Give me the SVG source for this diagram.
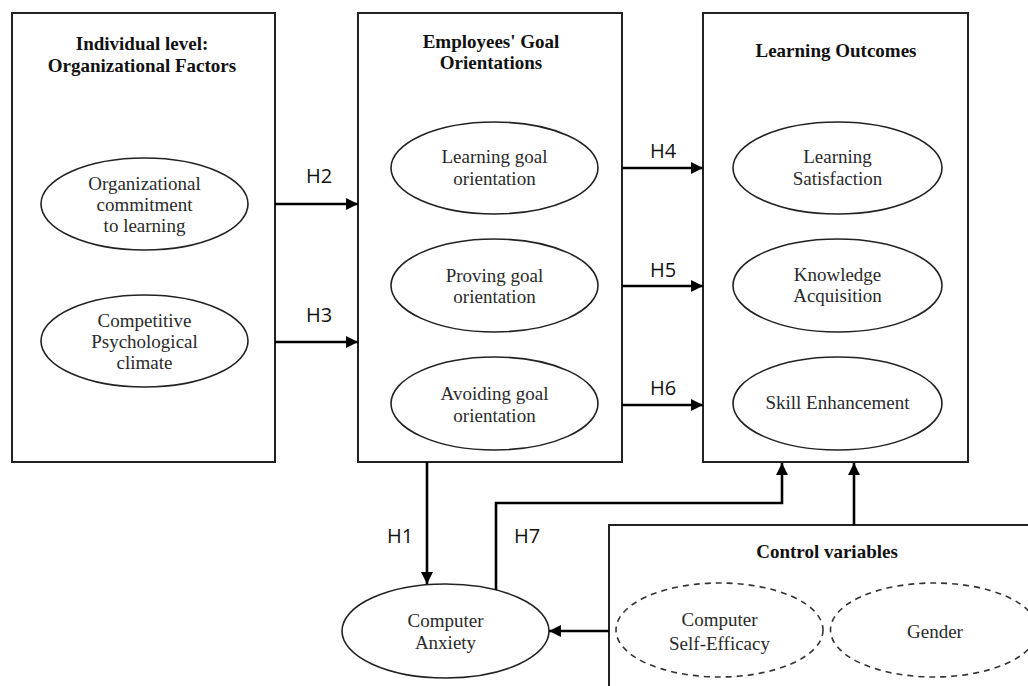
<svg xmlns="http://www.w3.org/2000/svg" width="1028" height="686" viewBox="0 0 1028 686">
<defs>
<style>
.box{fill:#fff;stroke:#222;stroke-width:2}
.ell{fill:#fff;stroke:#222;stroke-width:1.6}
.dash{fill:#fff;stroke:#333;stroke-width:1.6;stroke-dasharray:6 5}
.t{font-family:"Liberation Serif","Times New Roman",serif;font-size:19px;fill:#2a2a2a;text-anchor:middle}
.tb{font-family:"Liberation Serif","Times New Roman",serif;font-size:19px;font-weight:bold;fill:#111;text-anchor:middle}
.h{font-family:"Open Sans","DejaVu Sans",sans-serif;font-size:20px;fill:#111;text-anchor:middle}
.c{fill:none;stroke:#000;stroke-width:2.6}
</style>
<marker id="ah" viewBox="0 0 10 10" refX="10" refY="5" markerWidth="4.6" markerHeight="4.6" markerUnits="strokeWidth" orient="auto">
<path d="M0,0 L10,5 L0,10 z" fill="#000"/>
</marker>
</defs>
<rect width="1028" height="686" fill="#fff"/>

<g id="box-individual">
<rect class="box" x="12" y="13" width="263" height="449"/>
<text class="tb" x="142" y="50">Individual level:</text>
<text class="tb" x="142" y="72">Organizational Factors</text>
</g>
<g id="node-org-commitment">
<ellipse class="ell" cx="144.5" cy="204" rx="103.5" ry="46"/>
<text class="t" x="144.5" y="190">Organizational</text>
<text class="t" x="144.5" y="211">commitment</text>
<text class="t" x="144.5" y="232">to learning</text>
</g>
<g id="node-competitive">
<ellipse class="ell" cx="144.5" cy="341" rx="103.5" ry="46"/>
<text class="t" x="144.5" y="327">Competitive</text>
<text class="t" x="144.5" y="348">Psychological</text>
<text class="t" x="144.5" y="369">climate</text>
</g>

<g id="box-goal">
<rect class="box" x="358" y="13" width="264" height="449"/>
<text class="tb" x="491" y="48">Employees' Goal</text>
<text class="tb" x="491" y="69">Orientations</text>
</g>
<g id="node-learning-goal">
<ellipse class="ell" cx="494.5" cy="168" rx="103.5" ry="46"/>
<text class="t" x="494.5" y="163">Learning goal</text>
<text class="t" x="494.5" y="185">orientation</text>
</g>
<g id="node-proving-goal">
<ellipse class="ell" cx="494.5" cy="285.5" rx="103.5" ry="46.5"/>
<text class="t" x="494.5" y="282">Proving goal</text>
<text class="t" x="494.5" y="303">orientation</text>
</g>
<g id="node-avoiding-goal">
<ellipse class="ell" cx="494.5" cy="403.5" rx="103.5" ry="46.5"/>
<text class="t" x="494.5" y="400">Avoiding goal</text>
<text class="t" x="494.5" y="422">orientation</text>
</g>

<g id="box-outcomes">
<rect class="box" x="703" y="13" width="265" height="449"/>
<text class="tb" x="836" y="57">Learning Outcomes</text>
</g>
<g id="node-satisfaction">
<ellipse class="ell" cx="837.5" cy="168" rx="104.5" ry="46"/>
<text class="t" x="837.5" y="163">Learning</text>
<text class="t" x="837.5" y="185">Satisfaction</text>
</g>
<g id="node-knowledge">
<ellipse class="ell" cx="837.5" cy="285.5" rx="104.5" ry="46.5"/>
<text class="t" x="837.5" y="281">Knowledge</text>
<text class="t" x="837.5" y="302">Acquisition</text>
</g>
<g id="node-skill">
<ellipse class="ell" cx="837.5" cy="403.5" rx="104.5" ry="46.5"/>
<text class="t" x="837.5" y="409">Skill Enhancement</text>
</g>

<g id="node-anxiety">
<ellipse class="ell" cx="445.5" cy="631" rx="103.5" ry="47"/>
<text class="t" x="445.5" y="627">Computer</text>
<text class="t" x="445.5" y="649">Anxiety</text>
</g>

<g id="box-control">
<rect class="box" x="609" y="525" width="440" height="200"/>
<text class="tb" x="827" y="558">Control variables</text>
</g>
<g id="node-self-efficacy">
<ellipse class="dash" cx="719.5" cy="630" rx="103.5" ry="47"/>
<text class="t" x="719.5" y="626">Computer</text>
<text class="t" x="719.5" y="650">Self-Efficacy</text>
</g>
<g id="node-gender">
<ellipse class="dash" cx="934" cy="630" rx="103.5" ry="47"/>
<text class="t" x="935" y="638">Gender</text>
</g>

<g id="connectors">
<line class="c" x1="275" y1="204" x2="358" y2="204" marker-end="url(#ah)"/>
<line class="c" x1="275" y1="342" x2="358" y2="342" marker-end="url(#ah)"/>
<line class="c" x1="622" y1="168" x2="703" y2="168" marker-end="url(#ah)"/>
<line class="c" x1="622" y1="286" x2="703" y2="286" marker-end="url(#ah)"/>
<line class="c" x1="622" y1="405" x2="703" y2="405" marker-end="url(#ah)"/>
<line class="c" x1="427" y1="462" x2="427" y2="584" marker-end="url(#ah)"/>
<polyline class="c" points="496,590 496,503 782,503 782,463" marker-end="url(#ah)"/>
<line class="c" x1="854" y1="525" x2="854" y2="463" marker-end="url(#ah)"/>
<line class="c" x1="609" y1="631" x2="549" y2="631" marker-end="url(#ah)"/>
<text class="h" x="319" y="183">H2</text>
<text class="h" x="319" y="322">H3</text>
<text class="h" x="663" y="158">H4</text>
<text class="h" x="663" y="277">H5</text>
<text class="h" x="663" y="395">H6</text>
<text class="h" x="400" y="543">H1</text>
<text class="h" x="527" y="543">H7</text>
</g>
</svg>
